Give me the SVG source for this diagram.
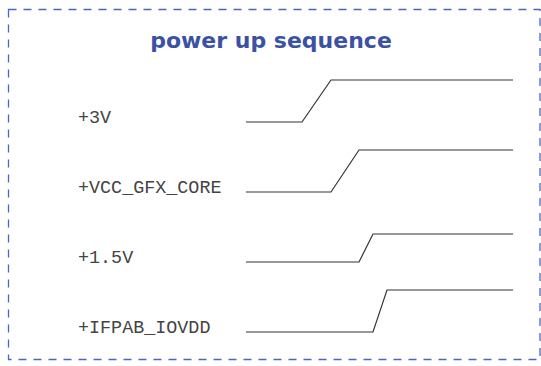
<svg xmlns="http://www.w3.org/2000/svg" width="541" height="366" viewBox="0 0 541 366">
<style>
.frame{fill:none;stroke:#4a66c4;stroke-width:1.3;stroke-dasharray:8,7}
.title{font-family:"DejaVu Sans",Verdana,sans-serif;font-weight:bold;font-size:22px;fill:#3b51a3}
.lbl{font-family:"Courier New","Nimbus Mono PS","FreeMono","Liberation Mono",monospace;font-size:18.4px;fill:#444}
.sig{fill:none;stroke:#333;stroke-width:1.2}
</style>
<rect width="541" height="366" fill="#fff"/>
<rect class="frame" x="8.5" y="9.5" width="531.5" height="350"/>
<g id="title"><text class="title" x="271" y="48" text-anchor="middle">power up sequence</text></g>
<g id="n3v"><text class="lbl" x="78" y="123">+3V</text></g>
<g id="nvcc"><text class="lbl" x="78" y="193">+VCC_GFX_CORE</text></g>
<g id="n15v"><text class="lbl" x="78" y="263">+1.5V</text></g>
<g id="nifpab"><text class="lbl" x="78" y="333">+IFPAB_IOVDD</text></g>
<g id="connectors">
<polyline class="sig" points="246,122 302,122 331,80 513,80"/>
<polyline class="sig" points="246,192 331,192 359,150 513,150"/>
<polyline class="sig" points="246,262 359,262 373,234 513,234"/>
<polyline class="sig" points="246,332 373,332 387,290 513,290"/>
</g>
</svg>
